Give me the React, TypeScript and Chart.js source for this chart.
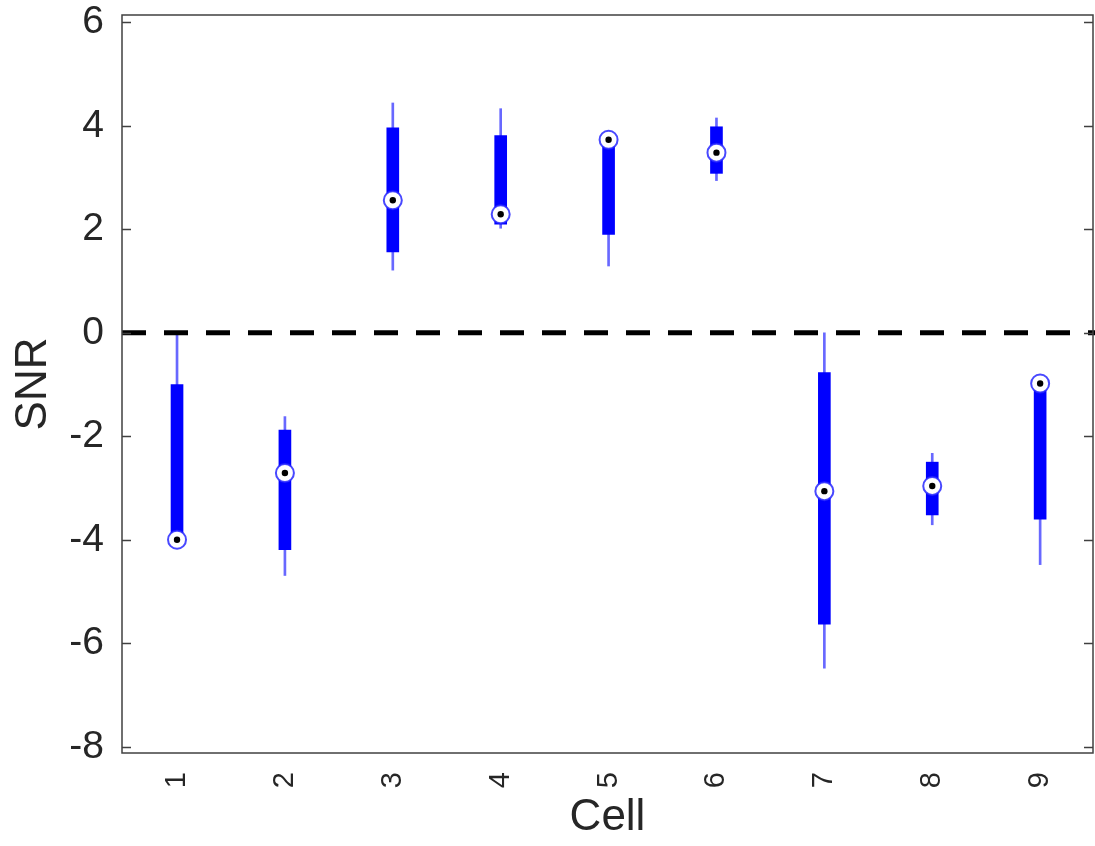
import React, { useEffect, useRef } from 'react';
import { Chart, registerables } from 'chart.js';

Chart.register(...registerables);

const cells = [1, 2, 3, 4, 5, 6, 7, 8, 9];
const whiskerLow = [-4.0, -4.69, 1.21, 2.02, 1.29, 2.94, -6.48, -3.71, -4.48];
const whiskerHigh = [0.0, -1.62, 4.44, 4.33, 3.73, 4.15, 0.0, -2.33, -0.98];
const q1 = [-4.0, -4.19, 1.56, 2.1, 1.9, 3.08, -5.63, -3.52, -3.6];
const q3 = [-1.0, -1.88, 3.96, 3.81, 3.73, 3.98, -0.77, -2.5, -0.98];
const medians = [-4.0, -2.71, 2.56, 2.29, 3.73, 3.48, -3.06, -2.96, -0.98];
const yTicks = [-8, -6, -4, -2, 0, 2, 4, 6];
const xLabel = 'Cell';
const yLabel = 'SNR';

const FONT = '"Liberation Sans", Arial, Helvetica, sans-serif';
const TEXT = '#262626';

const framePlugin = {
  id: 'frame',
  afterDatasetsDraw(chart: any) {
    const { ctx, chartArea } = chart;
    const y0 = chart.scales.y.getPixelForValue(0);
    ctx.save();
    ctx.strokeStyle = '#000';
    ctx.lineWidth = 5;
    ctx.setLineDash([24, 18]);
    ctx.beginPath();
    ctx.moveTo(chartArea.left, y0);
    ctx.lineTo(chart.width, y0);
    ctx.stroke();
    ctx.restore();
  },
  afterDraw(chart: any) {
    const { ctx, chartArea } = chart;
    const { left, right, top, bottom } = chartArea;
    ctx.save();
    ctx.strokeStyle = '#404040';
    ctx.lineWidth = 1.5;
    ctx.strokeRect(left, top, right - left, bottom - top);
    ctx.beginPath();
    const ys = chart.scales.y;
    yTicks.forEach((v) => {
      const p = Math.round(ys.getPixelForValue(v)) + 0.5;
      ctx.moveTo(left, p);
      ctx.lineTo(left + 9, p);
      ctx.moveTo(right, p);
      ctx.lineTo(right - 9, p);
    });
    ctx.stroke();
    ctx.restore();
  },
};

export default function App() {
  const ref = useRef<HTMLCanvasElement | null>(null);

  useEffect(() => {
    document.body.style.margin = '0';
    const canvas = ref.current;
    if (!canvas) return;
    const chart = new Chart(canvas, {
      type: 'bar',
      data: {
        datasets: [
          {
            type: 'line',
            label: 'median dot',
            data: cells.map((c, i) => ({ x: c, y: medians[i] })),
            showLine: false,
            pointRadius: 3.2,
            pointBackgroundColor: '#000',
            pointBorderWidth: 0,
            order: 0,
          } as any,
          {
            type: 'line',
            label: 'median',
            data: cells.map((c, i) => ({ x: c, y: medians[i] })),
            showLine: false,
            pointRadius: 9,
            pointBackgroundColor: '#fff',
            pointBorderColor: 'rgba(40,40,255,0.85)',
            pointBorderWidth: 2,
            order: 1,
          } as any,
          {
            type: 'bar',
            label: 'box',
            data: cells.map((c, i) => ({ x: c, y: [q1[i], q3[i]] })),
            backgroundColor: '#0000ff',
            barThickness: 12,
            grouped: false,
            borderSkipped: false,
            order: 2,
          } as any,
          {
            type: 'bar',
            label: 'whisker',
            data: cells.map((c, i) => ({ x: c, y: [whiskerLow[i], whiskerHigh[i]] })),
            backgroundColor: 'rgba(40,40,255,0.7)',
            barThickness: 2,
            grouped: false,
            borderSkipped: false,
            order: 3,
          } as any,
        ],
      },
      options: {
        responsive: false,
        animation: false,
        layout: { autoPadding: false, padding: { top: 15, right: 2, left: 0, bottom: 0 } },
        plugins: { legend: { display: false }, tooltip: { enabled: false }, title: { display: false } },
        scales: {
          x: {
            type: 'linear',
            min: 0.49,
            max: 9.49,
            offset: false,
            grid: { display: false },
            border: { display: false },
            afterBuildTicks: (axis: any) => {
              axis.ticks = cells.map((v) => ({ value: v }));
            },
            afterFit: (axis: any) => {
              axis.height = 93;
              axis.paddingLeft = 0;
              axis.paddingRight = 0;
            },
            ticks: {
              autoSkip: false,
              minRotation: 90,
              maxRotation: 90,
              padding: 11,
              color: TEXT,
              font: { family: FONT, size: 29 },
              callback: (v: any) => String(v),
            },
            title: {
              display: true,
              text: xLabel,
              color: TEXT,
              font: { family: FONT, size: 44, lineHeight: 1.2 },
              padding: { top: 0, bottom: 2 },
            },
          },
          y: {
            type: 'linear',
            min: -8.12,
            max: 6.14,
            grid: { display: false },
            border: { display: false },
            afterBuildTicks: (axis: any) => {
              axis.ticks = yTicks.map((v) => ({ value: v }));
            },
            afterFit: (axis: any) => {
              axis.width = 122;
              axis.paddingTop = 0;
              axis.paddingBottom = 0;
            },
            ticks: {
              padding: 10,
              color: TEXT,
              font: { family: FONT, size: 39 },
              callback: (v: any) => String(v),
            },
            title: {
              display: true,
              text: yLabel,
              color: TEXT,
              font: { family: FONT, size: 44, lineHeight: 1.2 },
              padding: { top: 7, bottom: 0 },
            },
          },
        },
      },
      plugins: [framePlugin],
    } as any);
    return () => chart.destroy();
  }, []);

  return (
    <div style={{ position: 'absolute', left: 0, top: 0, width: 1095, height: 846, background: '#fff' }}>
      <canvas ref={ref} width={1095} height={846} />
    </div>
  );
}
